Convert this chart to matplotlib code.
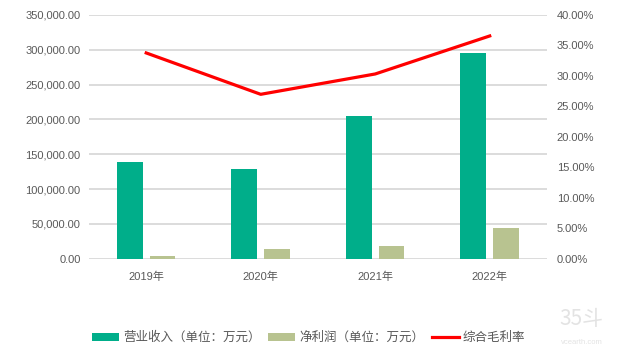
import numpy as np
import matplotlib.pyplot as plt
from matplotlib.ticker import FuncFormatter, MultipleLocator
from matplotlib.patches import Patch
from matplotlib.lines import Line2D

plt.rcParams["font.family"] = ["Liberation Sans", "Noto Sans CJK SC", "DejaVu Sans"]

# %% data
years = ["2019年", "2020年", "2021年", "2022年"]
revenue = [138300, 128800, 205000, 295800]  # 营业收入 (万元)
net_profit = [3900, 13700, 18000, 44400]  # 净利润 (万元)
gross_margin = [33.77, 26.98, 30.32, 36.56]  # 综合毛利率 (%)

label_rev = "营业收入（单位：万元）"
label_np = "净利润（单位：万元）"
label_gm = "综合毛利率"

teal = "#00AE8A"
olive = "#B8C390"
grey_txt = "#595959"

# %% plot
fig = plt.figure(figsize=(6.17, 3.57), dpi=100)
ax = fig.add_axes([0.1442, 0.2754, 0.7423, 0.6826])
x = np.arange(len(years))
w = 0.225
ax.bar(x - 0.143, revenue, width=w, color=teal, zorder=2)
ax.bar(x + 0.143, net_profit, width=w, color=olive, zorder=2)

ax.set_xlim(-0.5, len(years) - 0.5)
ax.set_ylim(0, 350000)
ax.yaxis.set_major_locator(MultipleLocator(50000))
ax.yaxis.set_major_formatter(FuncFormatter(lambda v, p: f"{v:,.2f}"))
ax.grid(axis="y", color="#D9D9D9", linewidth=1.3, zorder=0)
ax.set_xticks(x)
ax.set_xticklabels(years)
ax.tick_params(axis="both", length=0, labelsize=8, colors=grey_txt)
ax.tick_params(axis="x", pad=9)
ax.tick_params(axis="y", pad=6)
for s in ax.spines.values():
    s.set_visible(False)

ax2 = ax.twinx()
ax2.plot(x, gross_margin, color="#FF0000", linewidth=2.3, zorder=3)
ax2.set_ylim(0, 40)
ax2.yaxis.set_major_locator(MultipleLocator(5))
ax2.yaxis.set_major_formatter(FuncFormatter(lambda v, p: f"{v:.2f}%"))
ax2.tick_params(axis="y", length=0, labelsize=8, colors=grey_txt, pad=7)
for s in ax2.spines.values():
    s.set_visible(False)

handles = [
    Patch(facecolor=teal, label=label_rev),
    Patch(facecolor=olive, label=label_np),
    Line2D([0], [0], color="#FF0000", linewidth=2.3, label=label_gm),
]
fig.legend(
    handles=handles,
    loc="center",
    bbox_to_anchor=(0.50, 0.053),
    ncol=3,
    frameon=False,
    fontsize=9,
    labelcolor=grey_txt,
    handlelength=2.2,
    handleheight=0.6,
    handletextpad=0.3,
    columnspacing=0.6,
)

# watermark
fig.text(0.943, 0.106, "35斗", fontsize=15, color="#E3E3E3", ha="center", va="center",
         family=["Noto Sans CJK SC", "DejaVu Sans"])
fig.text(0.943, 0.042, "vcearth.com", fontsize=5.5, color="#E3E3E3", ha="center", va="center")

plt.savefig("out.png", dpi=100)
